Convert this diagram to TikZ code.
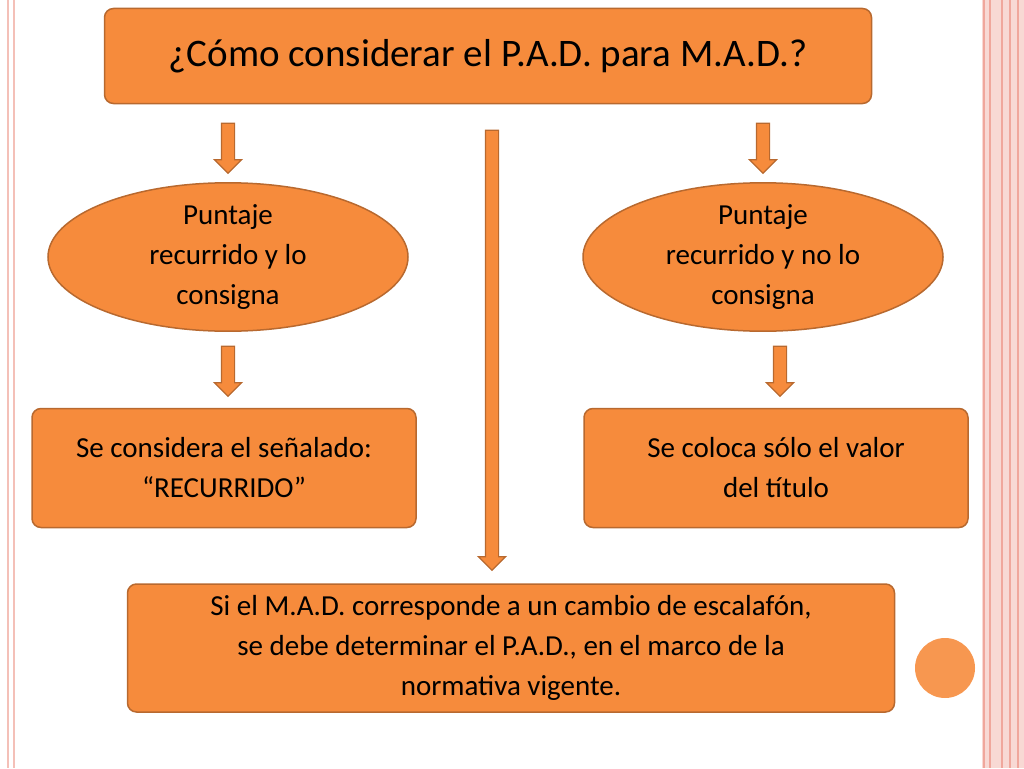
\documentclass[tikz,border=0pt]{standalone}
\usepackage{fontspec}
\setmainfont{Carlito}
\usetikzlibrary{shapes.geometric, shapes.arrows, positioning}
\definecolor{boxfill}{HTML}{F68B3C}
\definecolor{boxline}{HTML}{B8692F}
\definecolor{framepink}{HTML}{F4C0B8}

\begin{document}
\begin{tikzpicture}[
  x=1pt, y=-1pt,
  every node/.style={font=\fontsize{29}{40}\selectfont, text=black},
  box/.style={rectangle, rounded corners=9pt, fill=boxfill, draw=boxline, line width=1.5pt, align=center},
  oval/.style={ellipse, fill=boxfill, draw=boxline, line width=1.5pt, align=center, minimum width=360pt, minimum height=142pt, inner sep=0pt},
  downarrow/.style={single arrow, shape border rotate=270, fill=boxfill, draw=boxline, line width=1.2pt, inner sep=6pt, single arrow head extend=7pt, single arrow head indent=0pt, minimum height=#1}
]
\useasboundingbox (0,0) rectangle (1024,768);

% page frame
\draw[framepink, line width=1.5pt] (8,0) -- (8,768);
\draw[framepink, line width=1.5pt] (14,0) -- (14,768);
\fill[framepink!60] (982,0) rectangle (1024,768);
\foreach \x in {984,990,1002,1010,1018}
  \draw[framepink!140, line width=1.2pt] (\x,0) -- (\x,768);
\fill[boxfill!90] (945,668) circle (30);

% title
\node[box, minimum width=767pt, minimum height=95pt, font=\fontsize{39}{46}\selectfont] (title) at (488,56) {¿Cómo considerar el P.A.D. para M.A.D.?};

% row of ovals
\node[oval] (left) at (228,257) {Puntaje\\recurrido y lo\\consigna};
\node[oval] (right) at (763,257) {Puntaje\\recurrido y no lo\\consigna};

% result boxes
\node[box, minimum width=384pt, minimum height=119pt] (leftres) at (224,468) {Se considera el señalado:\\“RECURRIDO”};
\node[box, minimum width=384pt, minimum height=119pt] (rightres) at (776,468) {Se coloca sólo el valor\\del título};
\node[box, minimum width=767pt, minimum height=128pt] (bottom) at (511,648) {Si el M.A.D. corresponde a un cambio de escalafón,\\se debe determinar el P.A.D., en el marco de la\\normativa vigente.};

% arrows
\node[downarrow=50pt] (a1) at (228,145) {};
\node[downarrow=50pt] (a2) at (763,145) {};
\node[downarrow=50pt] (a3) at (228,368) {};
\node[downarrow=50pt] (a4) at (780,368) {};
\node[downarrow=440pt] (a5) at (492,347) {};
\end{tikzpicture}
\end{document}
